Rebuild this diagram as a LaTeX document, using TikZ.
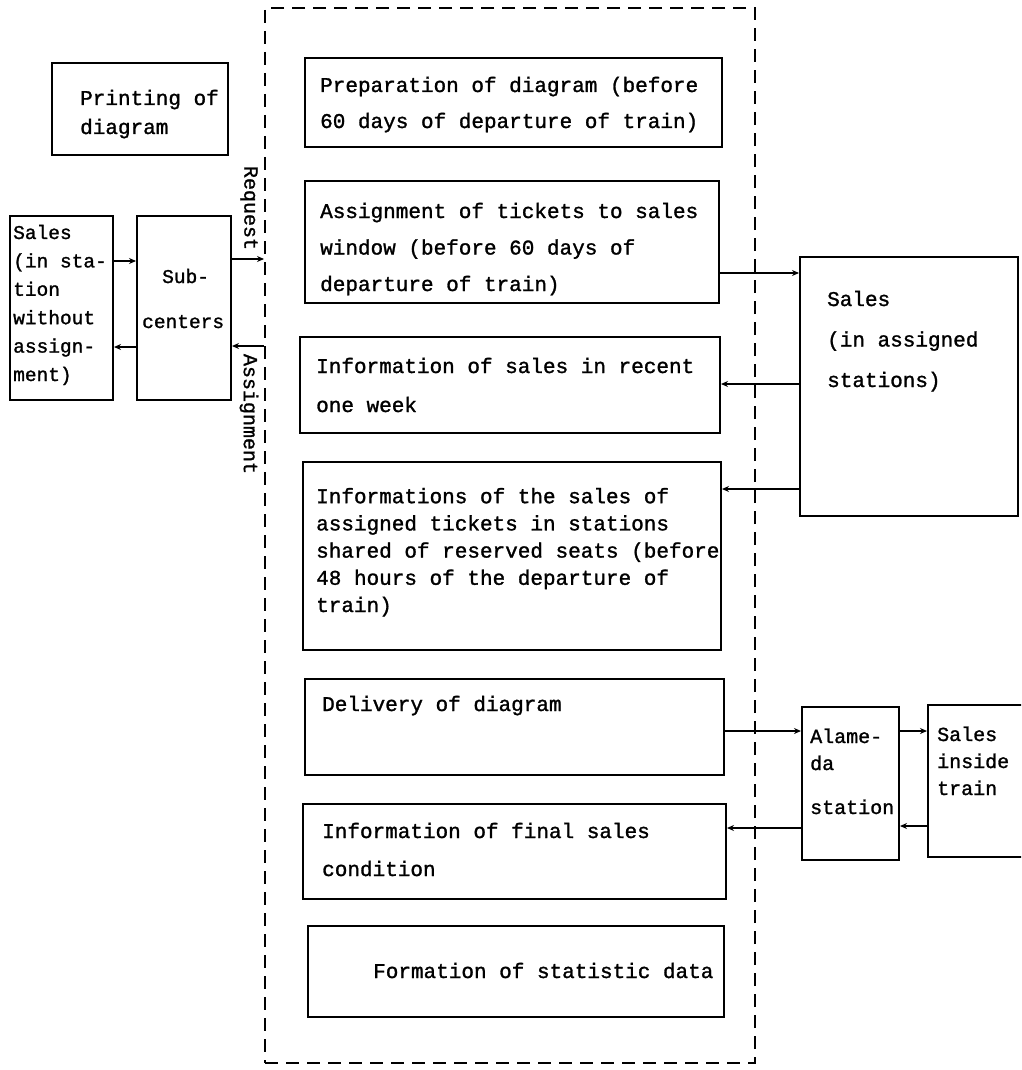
\documentclass[tikz,border=0pt]{standalone}
\usepackage{fontspec}
\setmonofont{Liberation Mono}[BoldFont=Liberation Mono, BoldFeatures={FakeBold=1.3}]
\usetikzlibrary{arrows.meta}
\begin{document}
\begin{tikzpicture}[x=1pt,y=-1pt,
  box/.style={draw, line width=2pt, rectangle, inner sep=0pt},
  frame/.style={draw, line width=2pt, dash pattern=on 13pt off 8pt, rectangle, inner sep=0pt},
  txt/.style={anchor=base west, inner sep=0pt, align=left},
  vlab/.style={inner sep=0pt, rotate=-90},
  link/.style={line width=1.8pt},
  tip/.style={link, -{Stealth[length=7pt,width=6pt]}}
]
\useasboundingbox (0,0) rectangle (1021,1070);
\clip (0,0) rectangle (1021,1070);
\ttfamily\bfseries
% central dashed frame
\node[frame, minimum width=490, minimum height=1055] (frame) at (510,535.5) {};
% boxes inside the frame
\node[box, minimum width=417, minimum height=89]  (b1) at (513.5,102.5) {};
\node[box, minimum width=414, minimum height=122] (b2) at (512,242) {};
\node[box, minimum width=420, minimum height=96]  (b3) at (510,385) {};
\node[box, minimum width=418, minimum height=188] (b4) at (512,556) {};
\node[box, minimum width=419, minimum height=96]  (b5) at (514.5,727) {};
\node[box, minimum width=423, minimum height=95]  (b6) at (514.5,851.5) {};
\node[box, minimum width=416, minimum height=91]  (b7) at (516,971.5) {};
% left side
\node[box, minimum width=176, minimum height=92]  (pr) at (140,109) {};
\node[box, minimum width=103, minimum height=184] (sl) at (61.5,308) {};
\node[box, minimum width=94,  minimum height=184] (sc) at (184,308) {};
% right side
\node[box, minimum width=218, minimum height=259] (sa) at (909,386.5) {};
\node[box, minimum width=97,  minimum height=153] (al) at (850.5,783.5) {};
\node[box, minimum width=112, minimum height=152] (st) at (984,781) {};

% texts (each anchored at the baseline of its last line)
\node[txt, font=\fontsize{21}{36}\selectfont] (t1) at (320,128)
  {Preparation of diagram (before\\60 days of departure of train)};
\node[txt, font=\fontsize{21}{36.5}\selectfont] (t2) at (320,291)
  {Assignment of tickets to sales\\window (before 60 days of\\departure of train)};
\node[txt, font=\fontsize{21}{39}\selectfont] (t3) at (316,412)
  {Information of sales in recent\\one week};
\node[txt, font=\fontsize{21}{27.2}\selectfont] (t4) at (316,612)
  {Informations of the sales of\\assigned tickets in stations\\shared of reserved seats (before\\48 hours of the departure of\\train)};
\node[txt, font=\fontsize{21}{36}\selectfont] (t5) at (322,711)
  {Delivery of diagram};
\node[txt, font=\fontsize{21}{38}\selectfont] (t6) at (322,876)
  {Information of final sales\\condition};
\node[txt, font=\fontsize{21}{36}\selectfont] (t7) at (373,978)
  {Formation of statistic data};
\node[txt, font=\fontsize{21}{29}\selectfont] (t8) at (80,134)
  {Printing of\\diagram};
\node[txt, font=\fontsize{19.5}{28.4}\selectfont] (t9) at (13,381)
  {Sales\\(in sta-\\tion\\without\\assign-\\ment)};
\node[txt, font=\fontsize{19.5}{45}\selectfont] (t10) at (142,328)
  {\hspace*{20pt}Sub-\\centers};
\node[txt, font=\fontsize{21}{40.5}\selectfont] (t11) at (827,387)
  {Sales\\(in assigned\\stations)};
\node[txt, font=\fontsize{20}{27}\selectfont] (t12) at (810,814)
  {Alame-\\da\\[17pt]station};
\node[txt, font=\fontsize{20}{27}\selectfont] (t13) at (937,795)
  {Sales\\inside\\train};
\node[vlab, font=\fontsize{20}{25}\selectfont] (req) at (249,208) {Request};
\node[vlab, font=\fontsize{20}{25}\selectfont] (asg) at (249,414) {Assignment};

% connectors on the left
\draw[tip] (sl.east |- 0,261) -- (sc.west |- 0,261);
\draw[tip] (sc.west |- 0,347) -- (sl.east |- 0,347);
\draw[tip] (sc.east |- 0,259) -- (frame.west |- 0,259);
\draw[tip] (frame.west |- 0,346) -- (sc.east |- 0,346);
% connectors on the right
\draw[tip] (b2.east |- 0,273) -- (sa.west |- 0,273);
\draw[tip] (sa.west |- 0,384) -- (b3.east |- 0,384);
\draw[tip] (sa.west |- 0,489) -- (b4.east |- 0,489);
\draw[tip] (b5.east |- 0,731) -- (al.west |- 0,731);
\draw[tip] (al.west |- 0,828) -- (b6.east |- 0,828);
\draw[tip] (al.east |- 0,731) -- (st.west |- 0,731);
\draw[tip] (st.west |- 0,826) -- (al.east |- 0,826);
\end{tikzpicture}
\end{document}
